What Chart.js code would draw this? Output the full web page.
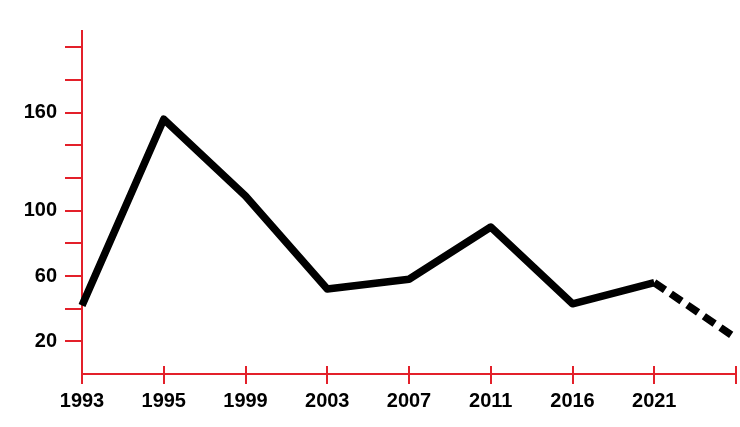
<!DOCTYPE html>
<html>
<head>
<meta charset="utf-8">
<script src="https://cdn.jsdelivr.net/npm/chart.js@4/dist/chart.umd.min.js"></script>
<style>
  html, body { margin: 0; padding: 0; background: #ffffff; }
  #wrap { width: 740px; height: 427px; position: relative; }
</style>
</head>
<body>
<div id="wrap"><canvas id="c"></canvas></div>
<script>
// Data
const categories = ['1993', '1995', '1999', '2003', '2007', '2011', '2016', '2021', ''];
const values = [42, 156, 109, 52, 58, 90, 43, 56, 22];
const yTickValues = [20, 40, 60, 80, 100, 120, 140, 160, 180, 200];
const yTickLabels = [20, 60, 100, 160];
const projectedFromIndex = 7; // segment after 2021 is dashed (projection)

const RED = '#e3202a';

const crossTicks = {
  id: 'crossTicks',
  afterDraw(chart) {
    const xs = chart.scales.x;
    const ctx = chart.ctx;
    const yAxis = chart.chartArea.bottom;
    ctx.save();
    ctx.strokeStyle = RED;
    ctx.lineWidth = 2;
    ctx.beginPath();
    for (let i = 0; i < xs.ticks.length; i++) {
      const px = Math.round(xs.getPixelForTick(i));
      ctx.moveTo(px, yAxis - 8);
      ctx.lineTo(px, yAxis + 10);
    }
    ctx.stroke();
    ctx.restore();
  }
};

new Chart(document.getElementById('c'), {
  type: 'line',
  data: {
    labels: categories,
    datasets: [{
      data: values,
      borderColor: '#000000',
      borderWidth: 7.5,
      borderJoinStyle: 'round',
      borderCapStyle: 'butt',
      pointRadius: 0,
      pointHoverRadius: 0,
      tension: 0,
      fill: false,
      segment: {
        borderDash: ctx => ctx.p0DataIndex >= projectedFromIndex ? [13, 7] : undefined
      }
    }]
  },
  options: {
    responsive: true,
    maintainAspectRatio: false,
    animation: false,
    layout: { padding: { top: 31, right: 4, left: 0, bottom: 0 } },
    plugins: { legend: { display: false }, tooltip: { enabled: false } },
    scales: {
      x: {
        offset: false,
        grid: {
          display: true,
          drawOnChartArea: false,
          drawTicks: true,
          tickLength: 15,
          color: 'rgba(0,0,0,0)'
        },
        border: { display: true, color: RED, width: 2 },
        ticks: {
          color: '#000000',
          font: { family: 'Liberation Sans, Arial, sans-serif', size: 20, weight: 'bold' },
          padding: 0,
          maxRotation: 0,
          autoSkip: false
        },
        afterFit: s => { s.height = 53; }
      },
      y: {
        min: 0,
        max: 210,
        grid: {
          display: true,
          drawOnChartArea: false,
          drawTicks: true,
          tickLength: 17,
          color: RED,
          lineWidth: 2
        },
        border: { display: true, color: RED, width: 2 },
        afterBuildTicks: s => {
          s.ticks = yTickValues.map(v => ({ value: v }));
        },
        ticks: {
          color: '#000000',
          padding: 8,
          font: { family: 'Liberation Sans, Arial, sans-serif', size: 20, weight: 'bold' },
          callback: v => yTickLabels.includes(v) ? String(v) : ''
        },
        afterFit: s => { s.width = 82; }
      }
    }
  },
  plugins: [crossTicks]
});
</script>
</body>
</html>
